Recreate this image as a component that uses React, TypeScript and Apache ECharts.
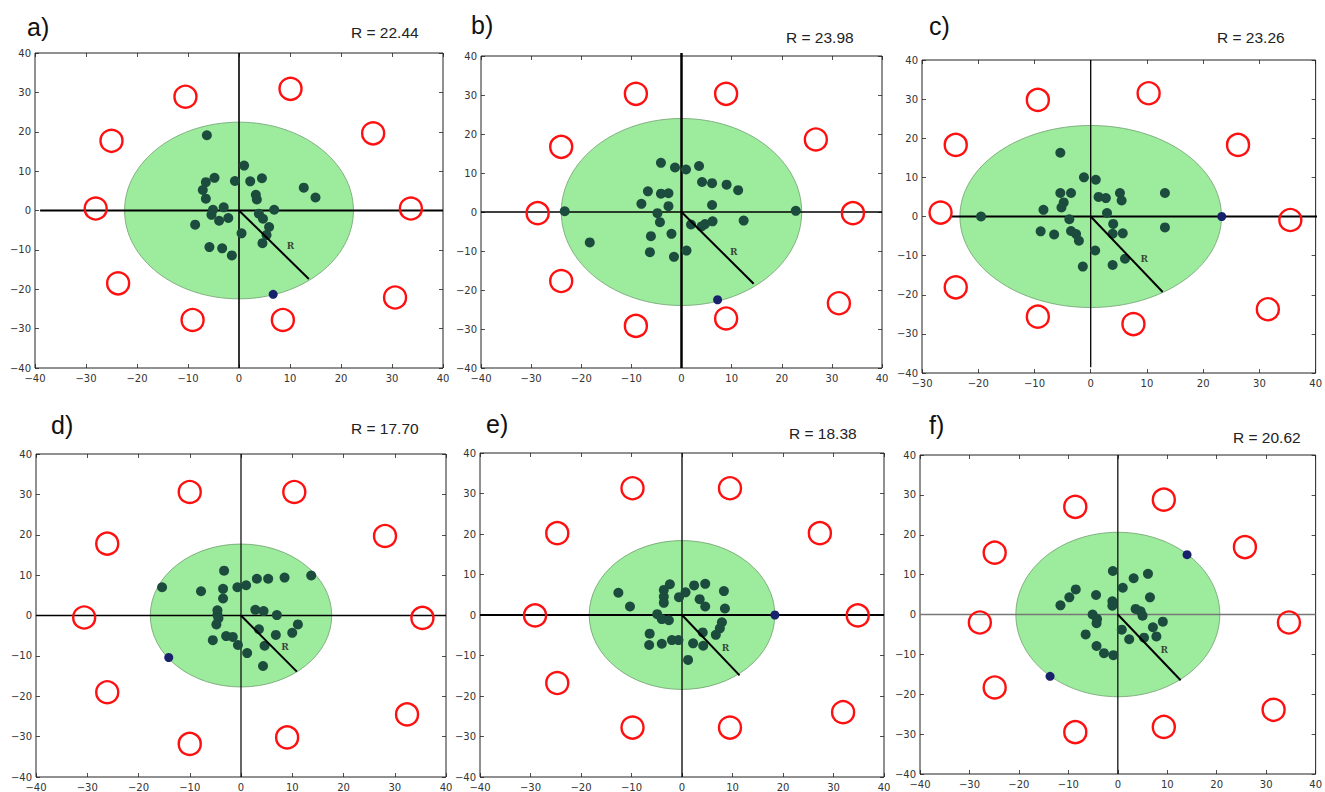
import React, { useEffect, useRef } from 'react';
import * as echarts from 'echarts';

// ---------- data ----------
const panelLabels = ['a)', 'b)', 'c)', 'd)', 'e)', 'f)'];
const radii = [22.44, 23.98, 23.26, 17.70, 18.38, 20.62];
const xMins = [-40, -40, -30, -40, -40, -40];
const axisMax = 40;
const yMin = -40;
const tickStep = 10;

const dotsA = [
  [-6.3, 19.1], [1.0, 11.4], [-4.8, 8.3], [-6.5, 7.2], [-7.1, 5.2], [-6.5, 3.0], [-0.8, 7.5], [2.2, 7.4],
  [4.5, 8.2], [3.3, 4.0], [3.5, 2.8], [12.7, 5.8], [15.0, 3.3], [-3.0, 0.8], [-5.1, 0.2], [-5.4, -1.1],
  [-3.9, -2.6], [-2.1, -1.9], [-8.6, -3.6], [3.9, -0.8], [4.7, -2.1], [6.9, 0.2], [5.9, -4.2], [5.4, -6.2],
  [0.5, -5.8], [4.6, -8.3], [-5.8, -9.3], [-3.3, -9.6], [-1.4, -11.4],
];
const dotsB = [
  [-4.1, 12.6], [-1.3, 11.4], [0.9, 10.9], [3.5, 11.8], [4.1, 7.7], [6.1, 7.4], [9.0, 7.0], [11.3, 5.6],
  [-6.7, 5.3], [-4.1, 4.7], [-2.6, 4.8], [-8.0, 2.1], [-2.6, 1.5], [6.1, 1.8], [-4.8, -0.3], [-4.3, -2.6],
  [1.9, -3.2], [4.0, -3.7], [4.7, -3.1], [6.2, -2.4], [12.4, -2.2], [-6.1, -6.2], [-2.0, -5.6], [-18.3, -7.8],
  [-6.3, -10.3], [1.0, -9.9], [-1.5, -11.5], [22.8, 0.3], [-23.3, 0.2],
];
const dotsC = [
  [-5.4, 16.3], [-1.2, 10.0], [0.9, 9.4], [-5.4, 6.0], [-3.5, 6.0], [1.4, 5.0], [2.7, 4.7], [5.2, 6.0],
  [5.5, 4.1], [13.2, 6.0], [-4.8, 3.6], [-5.2, 2.3], [-8.4, 1.7], [-19.5, 0], [2.9, 0.9], [-3.8, -0.7],
  [4.0, -1.9], [-8.9, -3.8], [-6.5, -4.6], [-3.5, -3.7], [-2.6, -4.5], [-2.1, -6.2], [3.9, -4.4], [5.7, -4.3],
  [13.2, -2.8], [0.8, -8.7], [6.1, -10.8], [3.9, -12.4], [-1.4, -12.8],
];
const dotsD = [
  [-3.3, 11.1], [3.1, 9.1], [5.3, 9.1], [8.5, 9.4], [13.7, 9.9], [-15.4, 7.0], [-7.8, 6.0], [-3.5, 6.6],
  [-0.7, 7.0], [1.0, 7.5], [-3.5, 4.2], [-4.6, 1.3], [-4.6, 0.2], [-4.4, -0.7], [-4.8, -2.2], [2.8, 1.4],
  [4.4, 1.1], [7.0, 0.1], [11.1, -2.2], [10.0, -4.3], [3.5, -3.4], [6.8, -4.8], [-5.5, -6.1], [-2.9, -5.1],
  [-1.6, -5.3], [-0.6, -7.3], [1.2, -9.3], [4.6, -7.5], [4.3, -12.5],
];
const dotsE = [
  [-12.6, 5.5], [-10.3, 2.1], [-2.4, 7.6], [-3.6, 6.2], [-3.6, 4.5], [-3.6, 3.0], [-0.6, 4.4], [0.7, 5.6],
  [2.4, 7.3], [4.6, 7.7], [8.3, 5.9], [3.5, 3.9], [4.6, 2.1], [8.5, 1.6], [-4.9, 0.2], [-4.0, -1.0],
  [-2.6, -1.3], [7.9, -1.8], [7.5, -3.3], [6.7, -4.9], [4.1, -4.3], [-6.4, -4.6], [-6.5, -7.4], [-4.0, -7.1],
  [-2.0, -6.2], [-0.7, -6.2], [2.2, -7.0], [4.2, -7.6], [1.2, -11.1],
];
const dotsF = [
  [-1.0, 10.9], [3.2, 9.1], [6.1, 10.2], [1.0, 6.7], [6.5, 4.3], [-8.5, 6.3], [-9.8, 4.3], [-11.6, 2.3],
  [-4.4, 4.9], [-1.1, 3.3], [-1.1, 2.2], [3.6, 1.4], [4.6, 0.8], [5.0, -0.3], [-5.1, 0], [-4.2, -1.1],
  [-4.3, -2.2], [9.1, -1.8], [7.1, -3.2], [7.8, -5.5], [0.8, -3.8], [2.3, -6.2], [5.3, -5.8], [-6.5, -5.0],
  [-4.3, -7.9], [-2.8, -9.7], [-0.9, -10.2],
];

const blueA = [[6.7, -21.3]];
const blueB = [[7.2, -22.5]];
const blueC = [[23.3, 0]];
const blueD = [[-14.1, -10.4]];
const blueE = [[18.4, 0]];
const blueF = [[14.0, 15.0], [-13.7, -15.5]];

const redA = [[-10.5, 28.9], [10.1, 30.9], [-25.0, 17.7], [26.3, 19.6], [-28.1, 0.5], [33.7, 0.5], [-23.7, -18.5], [30.6, -22.1], [-9.1, -27.8], [8.6, -27.8]];
const redB = [[-9.1, 30.3], [8.9, 30.3], [-24.0, 16.7], [26.8, 18.6], [-28.7, -0.3], [34.2, -0.3], [-24.0, -17.7], [31.4, -23.4], [-9.1, -29.2], [8.9, -27.3]];
const redC = [[-9.4, 29.8], [10.3, 31.5], [-24.0, 18.3], [26.2, 18.3], [-26.7, 1.0], [35.5, -0.9], [-24.0, -18.1], [31.5, -23.7], [-9.4, -25.6], [7.6, -27.5]];
const redD = [[-10.0, 30.6], [10.4, 30.6], [-26.1, 17.8], [28.1, 19.7], [-30.6, -0.5], [35.4, -0.6], [-26.1, -19.0], [32.4, -24.5], [-10.0, -31.8], [9.0, -30.2]];
const redE = [[-9.8, 31.3], [9.5, 31.3], [-24.7, 20.2], [27.3, 20.2], [-29.1, -0.1], [34.8, -0.1], [-24.7, -16.8], [31.9, -24.0], [-9.8, -27.8], [9.5, -27.8]];
const redF = [[-8.6, 27.0], [9.3, 28.8], [-24.9, 15.5], [25.7, 16.9], [-27.9, -2.0], [34.6, -2.0], [-24.9, -18.3], [31.5, -23.9], [-8.6, -29.5], [9.3, -28.2]];

const rEnds = [[13.7, -17.4], [14.4, -18.4], [12.8, -19.3], [10.9, -13.9], [11.4, -14.9], [12.7, -16.5]];
const rLabelPos = [[10.1, -8.9], [10.4, -10.3], [9.5, -10.9], [8.6, -7.8], [8.6, -8.2], [9.4, -9.0]];

const crossH = [
  [[-39, 0], [40, 0]], [[-40, 0], [40, 0]], [[-25, 0], [40.3, 0]],
  [[-40, 0], [40, 0]], [[-40, 0], [40, 0]], [[-40, 0], [40, 0]],
];
const crossV = [
  [[0, 40], [0, -40]], [[0, 40.8], [0, -40]], [[0, 40], [0, -38.5]],
  [[0, 40], [0, -40]], [[0, 40], [0, -40]], [[0, 40], [0, -40]],
];

// ---------- layout & styles ----------
const grids = [
  { left: 35, top: 53, width: 408, height: 315 },
  { left: 481, top: 56, width: 401, height: 312 },
  { left: 922, top: 60, width: 397, height: 313 },
  { left: 36, top: 454, width: 410, height: 326 },
  { left: 480, top: 453, width: 404, height: 325 },
  { left: 920, top: 455, width: 404, height: 319 },
];
const labelPos = [[27, 27], [471, 25], [929, 26], [51, 425], [486, 424], [929, 425]];
const rTextPos = [[351, 32], [786, 37], [1217, 37], [351, 428], [789, 433], [1233, 437]];
const hStyle = [
  { color: '#000', width: 2 }, { color: '#000', width: 1.6 }, { color: '#000', width: 2 },
  { color: '#000', width: 1.3 }, { color: '#000', width: 2 }, { color: '#777', width: 1.3 },
];
const vStyle = [
  { color: '#000', width: 1.6 }, { color: '#000', width: 2.5 }, { color: '#000', width: 1.3 },
  { color: '#000', width: 1.2 }, { color: '#000', width: 1.3 }, { color: '#111', width: 1.3 },
];

const dotsAll = [dotsA, dotsB, dotsC, dotsD, dotsE, dotsF];
const blueAll = [blueA, blueB, blueC, blueD, blueE, blueF];
const redAll = [redA, redB, redC, redD, redE, redF];

const fmt = (v: number) => String(v).replace('-', '\u2212');

function buildOption() {
  const xAxis: any[] = [];
  const yAxis: any[] = [];
  const series: any[] = [];
  const graphic: any[] = [];
  const tick = { show: true, inside: true, length: 4, lineStyle: { color: '#222', width: 0.8 } };
  const label = { fontSize: 10, fontFamily: 'DejaVu Sans', color: '#333', formatter: fmt, margin: 4 };

  grids.forEach((g, i) => {
    const base = { gridIndex: i, type: 'value', interval: tickStep, splitLine: { show: false }, axisLine: { show: false, onZero: false } };
    xAxis.push({ ...base, position: 'bottom', min: xMins[i], max: axisMax, axisTick: tick, axisLabel: { ...label, margin: 5 } });
    xAxis.push({ ...base, position: 'top', min: xMins[i], max: axisMax, axisTick: tick, axisLabel: { show: false } });
    yAxis.push({ ...base, position: 'left', min: yMin, max: axisMax, axisTick: tick, axisLabel: label });
    yAxis.push({ ...base, position: 'right', min: yMin, max: axisMax, axisTick: tick, axisLabel: { show: false } });
    const xi = 2 * i;
    const yi = 2 * i;

    series.push({
      type: 'custom', xAxisIndex: xi, yAxisIndex: yi, z: 1, silent: true,
      data: [[0, 0, radii[i]]], encode: { x: 0, y: 1 },
      renderItem: (_p: any, api: any) => {
        const c = api.coord([api.value(0), api.value(1)]);
        const s = api.size([api.value(2), api.value(2)]);
        return {
          type: 'ellipse',
          shape: { cx: c[0], cy: c[1], rx: s[0], ry: s[1] },
          style: { fill: '#9deb9d', stroke: '#6e9f6e', lineWidth: 0.8 },
        };
      },
    });
    series.push({
      type: 'line', xAxisIndex: xi, yAxisIndex: yi, z: 2, data: crossH[i], symbol: 'none', clip: false, silent: true,
      lineStyle: hStyle[i],
    });
    series.push({
      type: 'line', xAxisIndex: xi, yAxisIndex: yi, z: 2, data: crossV[i], symbol: 'none', clip: false, silent: true,
      lineStyle: vStyle[i],
    });
    series.push({
      type: 'scatter', xAxisIndex: xi, yAxisIndex: yi, z: 3, data: dotsAll[i], symbolSize: 10, silent: true,
      itemStyle: { color: '#1b4c3d', opacity: 1 },
    });
    series.push({
      type: 'scatter', xAxisIndex: xi, yAxisIndex: yi, z: 3, data: blueAll[i], symbolSize: 9, silent: true,
      itemStyle: { color: '#18226c', opacity: 1 },
    });
    series.push({
      type: 'line', xAxisIndex: xi, yAxisIndex: yi, z: 4, data: [[0, 0], rEnds[i]], symbol: 'none', silent: true,
      lineStyle: { color: '#000', width: 2 },
    });
    series.push({
      type: 'scatter', xAxisIndex: xi, yAxisIndex: yi, z: 5, data: [rLabelPos[i]], symbolSize: 1, silent: true,
      itemStyle: { color: 'rgba(0,0,0,0)' },
      label: { show: true, position: 'inside', formatter: 'R', fontFamily: 'DejaVu Serif', fontWeight: 'bold', fontSize: 9, color: '#1a1a1a' },
    });
    series.push({
      type: 'scatter', xAxisIndex: xi, yAxisIndex: yi, z: 6, data: redAll[i], symbol: 'circle', symbolSize: 22, silent: true,
      itemStyle: { color: 'rgba(255,255,255,0)', borderColor: '#ff1010', borderWidth: 2.4, opacity: 1 },
    });

    graphic.push({
      type: 'text', x: labelPos[i][0], y: labelPos[i][1],
      style: { text: panelLabels[i], fontSize: 25, fontFamily: 'Liberation Sans', fill: '#111', align: 'left', verticalAlign: 'middle', textAlign: 'left', textVerticalAlign: 'middle' },
    });
    graphic.push({
      type: 'text', x: rTextPos[i][0], y: rTextPos[i][1],
      style: { text: 'R = ' + radii[i].toFixed(2), fontSize: 15.5, fontFamily: 'Liberation Sans', fill: '#222', align: 'left', verticalAlign: 'middle', textAlign: 'left', textVerticalAlign: 'middle' },
    });
  });

  return {
    animation: false,
    backgroundColor: '#fff',
    grid: grids.map((g) => ({ ...g, show: true, borderColor: '#222', borderWidth: 1, backgroundColor: 'rgba(0,0,0,0)' })),
    xAxis,
    yAxis,
    series,
    graphic,
  };
}

export default function App() {
  const ref = useRef<HTMLDivElement>(null);
  useEffect(() => {
    if (!ref.current) return;
    const chart = echarts.init(ref.current, undefined, { renderer: 'svg' });
    chart.setOption(buildOption() as any);
    return () => chart.dispose();
  }, []);
  return <div ref={ref} style={{ position: 'absolute', left: 0, top: 0, width: 1325, height: 792, background: '#fff' }} />;
}
